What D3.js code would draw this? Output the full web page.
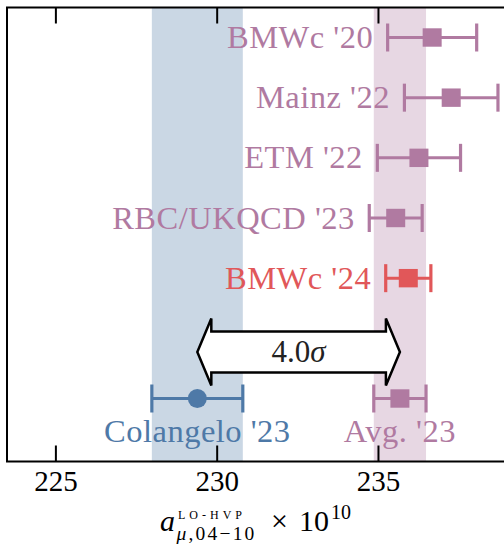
<!DOCTYPE html>
<html><head><meta charset="utf-8">
<script src="https://cdn.jsdelivr.net/npm/d3@7"></script>
<style>
html,body{margin:0;padding:0;background:#fff;overflow:hidden;}
text{font-family:"Liberation Serif","Times New Roman",serif;}
</style></head>
<body><svg id="c" width="504" height="544"></svg>
<script>
// ---- data ----
const rowNames = ["BMWc '20", "Mainz '22", "ETM '22", "RBC/UKQCD '23", "BMWc '24"];
const rowValues = [236.68, 237.27, 236.27, 235.55, 235.94];
const rowErrors = [1.38, 1.45, 1.29, 0.82, 0.70];
const rowKinds = ["lat", "lat", "lat", "lat", "new"];
const refNames = ["Colangelo '23", "Avg. '23"];
const refValues = [229.40, 235.68];
const refErrors = [1.41, 0.81];
const refKinds = ["dd", "lat"];
const xTickValues = [225, 230, 235];
const xDomain = [223.5, 239.0];
const tensionLabel = ["4.0", "σ"];

// ---- style ----
const colors = {lat: "#B07AA1", new: "#E15759", dd: "#4E79A7"};
const plot = {left: 7, top: 7.5, right: 507, bottom: 461.5};

const svg = d3.select("#c");
const x = d3.scaleLinear().domain(xDomain).range([plot.left, plot.right]);
const y = d3.scaleLinear().domain([0, 6]).range([37.5, 398.5]);

// bands
const bands = [{v: refValues[0], e: refErrors[0], c: colors.dd}, {v: refValues[1], e: refErrors[1], c: colors.lat}];
svg.selectAll("rect.band").data(bands).join("rect").attr("class", "band")
  .attr("x", d => x(d.v - d.e)).attr("width", d => x(d.v + d.e) - x(d.v - d.e))
  .attr("y", plot.top).attr("height", plot.bottom - plot.top)
  .attr("fill", d => d.c).attr("fill-opacity", 0.3);

const rows = rowNames.map((n, i) => ({name: n, v: rowValues[i], e: rowErrors[i], c: colors[rowKinds[i]], yy: y(i), marker: "square"}));
const refs = refNames.map((n, i) => ({name: n, v: refValues[i], e: refErrors[i], c: colors[refKinds[i]], yy: y(6), marker: i === 0 ? "circle" : "square"}));
const all = rows.concat(refs);

// error bars
const eb = svg.append("g").selectAll("g.eb").data(all).join("g").attr("class", "eb");
eb.append("line").attr("x1", d => x(d.v - d.e)).attr("x2", d => x(d.v + d.e))
  .attr("y1", d => d.yy).attr("y2", d => d.yy).attr("stroke", d => d.c).attr("stroke-width", 3);
[-1, 1].forEach(s => {
  eb.append("line").attr("x1", d => x(d.v + s * d.e)).attr("x2", d => x(d.v + s * d.e))
    .attr("y1", d => d.yy - 14).attr("y2", d => d.yy + 14).attr("stroke", d => d.c).attr("stroke-width", 3.2);
});
eb.filter(d => d.marker === "square").append("rect")
  .attr("x", d => x(d.v) - 9.5).attr("y", d => d.yy - 9.2).attr("width", 19).attr("height", 18.4)
  .attr("fill", d => d.c);
eb.filter(d => d.marker === "circle").append("circle")
  .attr("cx", d => x(d.v)).attr("cy", d => d.yy).attr("r", 9.5).attr("fill", d => d.c);

// row labels (left of bar)
svg.selectAll("text.rl").data(rows).join("text").attr("class", "rl")
  .attr("x", d => x(d.v - d.e) - 14.5).attr("y", d => d.yy + 10.5)
  .attr("text-anchor", "end").attr("font-size", 32.5).attr("letter-spacing", 0.5)
  .attr("fill", d => d.c).text(d => d.name);
// ref labels (under bar)
svg.selectAll("text.fl").data(refs).join("text").attr("class", "fl")
  .attr("x", d => x(d.v)).attr("y", d => d.yy + 43)
  .attr("text-anchor", "middle").attr("font-size", 32.5).attr("letter-spacing", 0.5)
  .attr("fill", d => d.c).text(d => d.name);

// double arrow
const ax0 = x(refValues[0]), ax1 = x(refValues[1]), ay = 352;
const bh = 20.5, hh = 33.5, hl = 14;
const p = d3.path();
p.moveTo(ax0, ay); p.lineTo(ax0 + hl, ay - hh); p.lineTo(ax0 + hl, ay - bh);
p.lineTo(ax1 - hl, ay - bh); p.lineTo(ax1 - hl, ay - hh); p.lineTo(ax1, ay);
p.lineTo(ax1 - hl, ay + hh); p.lineTo(ax1 - hl, ay + bh); p.lineTo(ax0 + hl, ay + bh);
p.lineTo(ax0 + hl, ay + hh); p.closePath();
svg.append("path").attr("d", p.toString()).attr("fill", "#fff").attr("stroke", "#000")
  .attr("stroke-width", 2.5).attr("stroke-linejoin", "miter");
const st = svg.append("text").attr("x", (ax0 + ax1) / 2).attr("y", ay + 10).attr("text-anchor", "middle")
  .attr("font-size", 31).attr("fill", "#222");
st.append("tspan").text(tensionLabel[0]);
st.append("tspan").attr("font-style", "italic").text(tensionLabel[1]);

// frame
svg.append("rect").attr("x", plot.left).attr("y", plot.top).attr("width", plot.right - plot.left)
  .attr("height", plot.bottom - plot.top).attr("fill", "none").attr("stroke", "#000").attr("stroke-width", 2);

// axes ticks (inward) bottom & top
const bAxis = d3.axisBottom(x).tickValues(xTickValues).tickSizeInner(-16).tickSizeOuter(0).tickFormat(d3.format("d"));
const ba = svg.append("g").attr("transform", `translate(0,${plot.bottom})`).call(bAxis);
ba.select(".domain").remove();
ba.selectAll(".tick line").attr("stroke", "#000").attr("stroke-width", 2);
ba.selectAll(".tick text").attr("font-size", 29).attr("font-family", "Liberation Serif").attr("fill", "#000")
  .attr("dy", null).attr("y", 29.5);
const tAxis = d3.axisTop(x).tickValues(xTickValues).tickSizeInner(-16).tickSizeOuter(0).tickFormat("");
const ta = svg.append("g").attr("transform", `translate(0,${plot.top})`).call(tAxis);
ta.select(".domain").remove();
ta.selectAll(".tick line").attr("stroke", "#000").attr("stroke-width", 2);

// x axis label
const lab = svg.append("g").attr("transform", "translate(160,531)").attr("fill", "#000");
lab.append("text").attr("x", 0).attr("y", 0).attr("font-size", 30).attr("font-style", "italic").text("a");
lab.append("text").attr("x", 18).attr("y", -12).attr("font-size", 12).attr("letter-spacing", 4).text("LO-HVP");
const sub = lab.append("text").attr("x", 16.5).attr("y", 9).attr("font-size", 19.5).attr("letter-spacing", 2.2);
sub.append("tspan").attr("font-style", "italic").text("μ");
sub.append("tspan").text(",04−10");
lab.append("text").attr("x", 111).attr("y", 0).attr("font-size", 30).text("×");
lab.append("text").attr("x", 139).attr("y", 0).attr("font-size", 30).text("10");
lab.append("text").attr("x", 171).attr("y", -12).attr("font-size", 20).text("10");
</script></body></html>
